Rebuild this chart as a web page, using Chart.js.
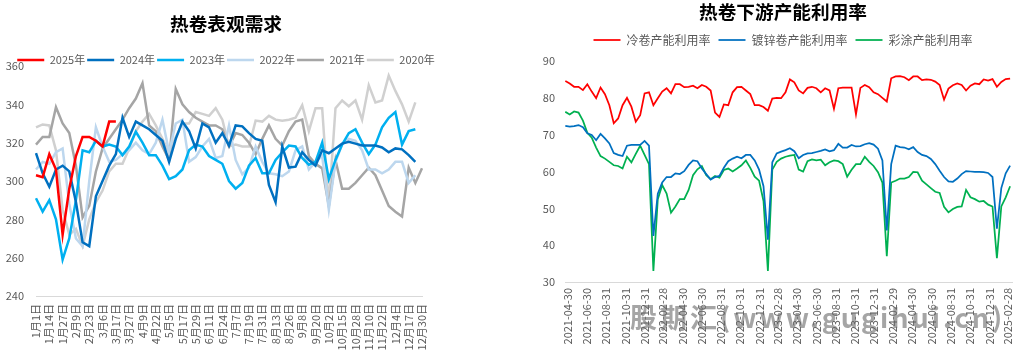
<!DOCTYPE html>
<html><head><meta charset="utf-8">
<script src="https://cdn.jsdelivr.net/npm/chart.js@4.4.1/dist/chart.umd.min.js"></script>
<style>
html,body{margin:0;padding:0;background:#fff;overflow:hidden;width:1018px;height:356px;position:relative;}
#cL{position:absolute;left:0;top:0;}
#cR{position:absolute;left:530px;top:0;}
#wm{position:absolute;left:630px;top:302px;font-family:'Noto Sans CJK SC','Noto Sans',sans-serif;font-weight:bold;font-size:27px;line-height:30px;letter-spacing:3px;color:rgba(105,105,105,0.6);white-space:nowrap;pointer-events:none;}
</style></head><body>
<canvas id="cL" width="452" height="356"></canvas>
<canvas id="cR" width="506" height="356"></canvas>
<div id="wm">股期汇(www.gugihui.cn)</div>
<script>
// ---------- Left chart: 热卷表观需求 ----------
const weekLabels = ['1月1日','1月7日','1月14日','1月20日','1月27日','2月2日','2月9日','2月16日','2月23日','3月1日',
  '3月6日','3月11日','3月17日','3月22日','3月27日','4月3日','4月9日','4月15日','4月22日','4月28日',
  '5月5日','5月11日','5月17日','5月23日','5月29日','6月4日','6月11日','6月17日','6月24日','6月30日',
  '7月7日','7月13日','7月19日','7月25日','7月31日','8月6日','8月13日','8月19日','8月26日','9月1日',
  '9月8日','9月14日','9月20日','9月26日','10月2日','10月8日','10月15日','10月21日','10月28日','11月3日',
  '11月10日','11月16日','11月22日','11月28日','12月4日','12月10日','12月17日','12月23日','12月30日'];
const yearNames = ['2025年','2024年','2023年','2022年','2021年','2020年'];
const yearColors = ['#FF0000','#0070C0','#00B0F0','#BDD7EE','#A5A5A5','#D0D0D0'];
const y2025 = [303,302,314,306,272,296,313,323,323,321,318,331,331];
const y2024 = [314.5,304,297,306,308,305,289,268,266,292,
  300,308,314,333,323,331,329,327,324,321,
  310,322,331,326,317,330,328,320,325,318.5,
  329,328.5,325,322,321,298,289,318,307,307.5,
  315,311,308,316,314.5,317,319.5,320.5,319.5,318.5,
  318.5,318.5,317.5,315,317,316.5,313.5,310];
const y2023 = [291,284,290,280,259,270,290,316,315,321,
  318,319,318,313.5,318,325.7,320,313.5,313.5,308,
  301,302.5,306,316,319,318,313,311,309,300,
  296,299,308,312,304,304,311,315,318.5,318,
  312,308.5,310,320,301,311,319,325,327,320,
  314,319,328,333,336,319,326,327];
const y2022 = [306,310,309,315,317,288,270,266,300,328,
  318,310,311,314,316,320,316,314,320,332,
  315,330,332,310,312.5,318,322,312,313,329,
  311,303.5,307,318,310,304,303.5,302.5,305,316,
  318,306,310,313,285,310,319,322,321,316,
  306,306,304,306,310,310,299,303];
const y2021 = [319,323,323,338.5,330,325,308,281,287,305,
  317,322,327,332,338,343,351,329,326,318,
  311,348,340,336,333,331,329,329,327,318,
  325,324,320,314,322,329,322,318.5,326,331,
  332,313,309,306.6,287,311,296,296,299,303,
  307,303,295,287,284,281.5,307,299,306.6];
const y2020 = [328,329.5,329,316,285,272,275,266,280,289,
  295,305,309,309,317,326,331,335,329,322,
  315,323,330,330,336,335,334,338,332,318,
  319,318,318,331.5,331,334,332,331.5,332,333,
  339.5,326,338,338,287,338,342,339,342,332,
  350,341,342,355,347,340,331,341];
const leftMin = 240, leftMax = 360, leftStep = 20;

// ---------- Right chart: 热卷下游产能利用率 ----------
const rightNames = ['冷卷产能利用率','镀锌卷产能利用率','彩涂产能利用率'];
const rightColors = ['#FF0000','#0070C0','#00B050'];
const rightStart = '2021-04-23';   // first observation
const rightStepDays = 14;          // one observation every two weeks
const coldRolled = [84.6,83.9,83.0,83.0,82.1,83.7,81.7,79.9,82.8,81.0,
  78.0,73.1,74.4,78.0,80.0,77.6,73.5,75.3,81.2,81.5,
  78.0,79.9,81.7,82.6,81.2,83.7,83.7,82.9,83.0,83.3,
  82.6,83.5,83.0,82.0,76.0,74.8,78.2,78.0,81.5,82.9,
  83.0,82.0,81.0,78.0,78.0,77.5,76.5,79.8,80.0,79.9,
  81.5,85.0,84.2,82.0,81.2,82.7,83.0,82.6,81.5,82.6,
  82.0,77.0,82.6,82.8,82.8,82.8,75.5,82.7,83.5,82.9,
  81.5,81.0,80.0,79.0,85.3,85.8,85.9,85.6,84.8,85.8,
  85.8,84.8,85.0,84.9,84.4,83.5,79.5,82.5,83.4,83.9,
  83.5,82.0,83.3,83.9,83.7,85.0,84.7,85.1,83.0,84.3,
  85.1,85.2];
const galvanized = [72.4,72.2,72.3,72.6,72.0,70.4,69.9,68.5,70.2,69.0,
  67.6,65.0,64.5,64.2,67.0,67.2,67.2,67.2,68.3,67.0,
  42.5,54.0,57.0,58.5,58.5,59.5,59.3,60.1,61.8,63.0,
  62.8,60.8,59.3,57.8,58.5,58.8,61.0,62.8,63.5,64.0,
  63.6,64.5,64.5,63.0,60.5,56.0,41.5,62.5,64.9,65.4,
  65.8,66.3,65.5,63.6,64.5,64.9,65.0,65.3,65.6,66.0,
  65.5,65.8,67.5,66.5,66.5,67.2,66.8,66.9,67.4,67.7,
  67.3,66.2,63.0,44.0,62.0,67.0,66.6,66.5,66.0,66.6,
  65.3,64.5,64.2,63.4,62.0,60.2,58.5,57.3,57.2,58.1,
  59.3,60.1,60.0,59.9,59.9,59.8,59.6,58.5,44.5,55.5,
  59.5,61.6];
const colorCoated = [76.2,75.5,76.3,76.0,73.8,70.5,69.2,66.5,64.2,63.5,
  62.6,61.7,61.5,60.8,64.0,62.5,64.8,67.0,64.5,62.0,
  33.0,52.5,56.3,54.0,48.8,50.5,52.5,52.5,55.0,59.0,
  60.6,61.5,59.0,57.9,58.8,58.3,60.4,60.8,60.0,60.8,
  61.7,63.0,61.0,58.6,57.5,52.0,33.0,60.5,62.6,63.5,
  64.0,64.3,64.5,60.5,60.0,62.8,63.3,63.0,63.2,61.7,
  62.5,63.0,62.8,62.0,58.6,60.5,62.0,62.0,64.0,62.6,
  61.5,59.8,57.0,37.0,57.0,57.5,58.1,58.1,58.5,59.9,
  59.8,57.5,56.5,55.5,54.5,54.2,50.4,48.9,49.8,50.4,
  50.5,55.0,53.0,52.5,51.8,52.0,51.0,50.5,36.5,50.5,
  53.0,56.0];
const rightTickLabels = ['2021-04-30','2021-06-30','2021-08-31','2021-10-31','2021-12-31',
  '2022-02-28','2022-04-30','2022-06-30','2022-08-31','2022-10-31','2022-12-31',
  '2023-02-28','2023-04-30','2023-06-30','2023-08-31','2023-10-31','2023-12-31',
  '2024-02-29','2024-04-30','2024-06-30','2024-08-31','2024-10-31','2024-12-31','2025-02-28'];
const rightMin = 30, rightMax = 90, rightStep = 10;
const rightAxisFrom = '2021-04-22', rightAxisTo = '2025-03-13';

// ---------- helpers ----------
const FONT = "'Noto Sans CJK SC','Noto Sans',sans-serif";
const GREY = '#595959';
Chart.defaults.font.family = FONT;
Chart.defaults.color = GREY;
const ORIGIN = Date.UTC(2021, 3, 30);
function dayOf(s) { const p = s.split('-').map(Number); return (Date.UTC(p[0], p[1]-1, p[2]) - ORIGIN) / 86400000; }
const firstDay = dayOf(rightStart);
const toXY = arr => arr.map((v, j) => ({ x: firstDay + j * rightStepDays, y: v }));
const tickDays = rightTickLabels.map(dayOf);
const noGrid = { display: false, drawTicks: false };

// ---------- left chart ----------
const leftSeries = [y2025, y2024, y2023, y2022, y2021, y2020];
new Chart(document.getElementById('cL'), {
  type: 'line',
  data: {
    labels: weekLabels,
    datasets: leftSeries.map((d, k) => ({
      label: yearNames[k], data: d, borderColor: yearColors[k], backgroundColor: yearColors[k],
      borderWidth: 2.5, pointRadius: 0, tension: 0, fill: false
    }))
  },
  options: {
    responsive: false, animation: false, devicePixelRatio: 1,
    layout: { padding: 0 },
    plugins: {
      tooltip: { enabled: false },
      title: { display: true, text: '热卷表观需求', color: '#000',
        font: { size: 18.67, weight: 'bold' }, padding: { top: 12.3, bottom: 17.8 } },
      legend: { display: true, position: 'top', maxHeight: 13.5,
        labels: { usePointStyle: true, pointStyle: 'line', pointStyleWidth: 27, boxHeight: 11,
          padding: 2, color: GREY, font: { size: 11 } } }
    },
    scales: {
      x: { type: 'category', grid: noGrid, border: { display: true, color: '#D9D9D9', width: 1 },
        ticks: { autoSkip: false, minRotation: 90, maxRotation: 90, padding: 8, color: GREY, font: { size: 11 },
          callback: function (v, i) { return i % 2 === 0 ? this.getLabelForValue(v) : ''; } },
        afterFit: s => { s.height = 60; } },
      y: { min: leftMin, max: leftMax, grid: noGrid, border: { display: false },
        ticks: { stepSize: leftStep, padding: 12, color: GREY, font: { size: 11 } },
        afterFit: s => { s.width = 36; } },
      yPad: { type: 'linear', position: 'right', display: true, grid: noGrid,
        border: { display: false }, ticks: { display: false }, afterFit: s => { s.width = 30; } }
    }
  }
});

// ---------- right chart ----------
const rightSeries = [coldRolled, galvanized, colorCoated];
new Chart(document.getElementById('cR'), {
  type: 'line',
  data: {
    datasets: rightSeries.map((d, k) => ({
      label: rightNames[k], data: toXY(d), borderColor: rightColors[k], backgroundColor: rightColors[k],
      borderWidth: 1.75, pointRadius: 0, tension: 0, fill: false
    }))
  },
  options: {
    responsive: false, animation: false, devicePixelRatio: 1,
    layout: { padding: 0 },
    plugins: {
      tooltip: { enabled: false },
      title: { display: true, text: '热卷下游产能利用率', color: '#000',
        font: { size: 18.67, weight: 'bold' }, padding: { top: 1, bottom: 2.6 } },
      subtitle: { display: true, text: '', weight: 500, font: { size: 1 }, padding: { top: 0, bottom: 3.8 } },
      legend: { display: true, position: 'top',
        labels: { usePointStyle: true, pointStyle: 'line', pointStyleWidth: 27, boxHeight: 12,
          padding: 8, color: GREY, font: { size: 12 } } }
    },
    scales: {
      x: { type: 'linear', min: dayOf(rightAxisFrom), max: dayOf(rightAxisTo),
        grid: noGrid, border: { display: true, color: '#D9D9D9', width: 1 },
        afterBuildTicks: s => { s.ticks = tickDays.map(v => ({ value: v })); },
        ticks: { autoSkip: false, minRotation: 90, maxRotation: 90, padding: 6, color: GREY, font: { size: 11 },
          callback: (v, i) => rightTickLabels[i] },
        afterFit: s => { s.height = 74; } },
      y: { min: rightMin, max: rightMax, grid: noGrid, border: { display: false },
        ticks: { stepSize: rightStep, padding: 10, color: GREY, font: { size: 11 } },
        afterFit: s => { s.width = 35; } },
      yPad: { type: 'linear', position: 'right', display: true, grid: noGrid,
        border: { display: false }, ticks: { display: false }, afterFit: s => { s.width = 24; } }
    }
  }
});
</script>
</body></html>
